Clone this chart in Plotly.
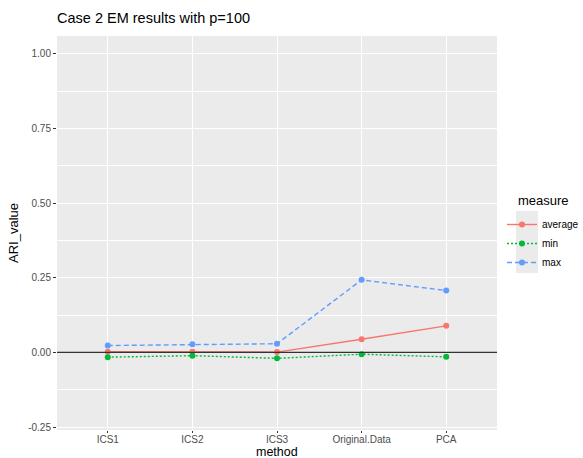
import plotly.graph_objects as go

methods = ["ICS1", "ICS2", "ICS3", "Original.Data", "PCA"]
average = [0.002, 0.002, 0.001, 0.044, 0.089]
minimum = [-0.016, -0.011, -0.020, -0.006, -0.015]
maximum = [0.023, 0.027, 0.029, 0.243, 0.207]

series = [
    ("average", average, "#F8766D", "solid"),
    ("min", minimum, "#00BA38", "2px,2px"),
    ("max", maximum, "#619CFF", "5px,3px"),
]

fig = go.Figure()
for name, vals, col, dash in series:
    fig.add_trace(go.Scatter(
        x=methods, y=vals, name=name, mode="lines+markers",
        line=dict(color=col, width=1.4, dash=dash),
        marker=dict(color=col, size=6),
    ))

fig.add_hline(y=0, line=dict(color="#333333", width=1.4))

W, H = 583, 458
L, R, T, B = 57, 86, 36, 28
pw = W - L - R
ph = H - T - B

def px_x(x):
    return (x - L) / pw

def px_y(y):
    return (H - B - y) / ph

fig.add_shape(type="rect", xref="paper", yref="paper",
              x0=px_x(516), x1=px_x(538), y0=px_y(273), y1=px_y(211),
              fillcolor="#EBEBEB", line=dict(width=0), layer="below")

fig.add_annotation(text="measure", xref="paper", yref="paper",
                   x=px_x(516), y=px_y(200), xanchor="left", yanchor="middle",
                   showarrow=False, font=dict(size=13, color="black"))

fig.add_annotation(text="method", xref="paper", yref="paper",
                   x=0.5, y=px_y(452), xanchor="center", yanchor="middle",
                   showarrow=False, borderpad=0, font=dict(size=12.5, color="black"))

axis_font = dict(family="Liberation Sans, Arial, sans-serif", size=10, color="#4D4D4D")
fig.update_layout(
    width=W, height=H,
    margin=dict(l=L, r=R, t=T, b=B, pad=0, autoexpand=False),
    paper_bgcolor="white", plot_bgcolor="#EBEBEB",
    font=dict(family="Liberation Sans, Arial, sans-serif", color="black"),
    title=dict(text="Case 2 EM results with p=100", xref="paper", x=0, xanchor="left",
               yref="container", y=1 - 18 / H, yanchor="middle",
               font=dict(size=14.5, color="black")),
    showlegend=True,
    legend=dict(x=px_x(502), xanchor="left", y=px_y(210), yanchor="top",
                bgcolor="rgba(0,0,0,0)", font=dict(size=10, color="black"),
                itemwidth=30, tracegroupgap=0),
    xaxis=dict(
        automargin=False,
        range=[-0.6, 4.6], showgrid=True, gridcolor="white", gridwidth=1.1,
        ticks="outside", ticklen=2, tickcolor="#333333", tickwidth=1,
        ticklabelstandoff=-2,
        tickfont=axis_font, zeroline=False, showline=False,
    ),
    yaxis=dict(
        title=dict(text="ARI_value", font=dict(size=13, color="black"), standoff=6),
        automargin=False,
        range=[-0.26, 1.06], tickvals=[-0.25, 0, 0.25, 0.5, 0.75, 1.0],
        ticktext=["-0.25", "0.00", "0.25", "0.50", "0.75", "1.00"],
        showgrid=True, gridcolor="white", gridwidth=1.1,
        minor=dict(tickvals=[-0.125, 0.125, 0.375, 0.625, 0.875], showgrid=True,
                   gridcolor="white", gridwidth=0.5),
        ticks="outside", ticklen=3, tickcolor="#333333", tickwidth=1,
        tickfont=axis_font, zeroline=False, showline=False,
    ),
)

fig.write_html("out.html")
